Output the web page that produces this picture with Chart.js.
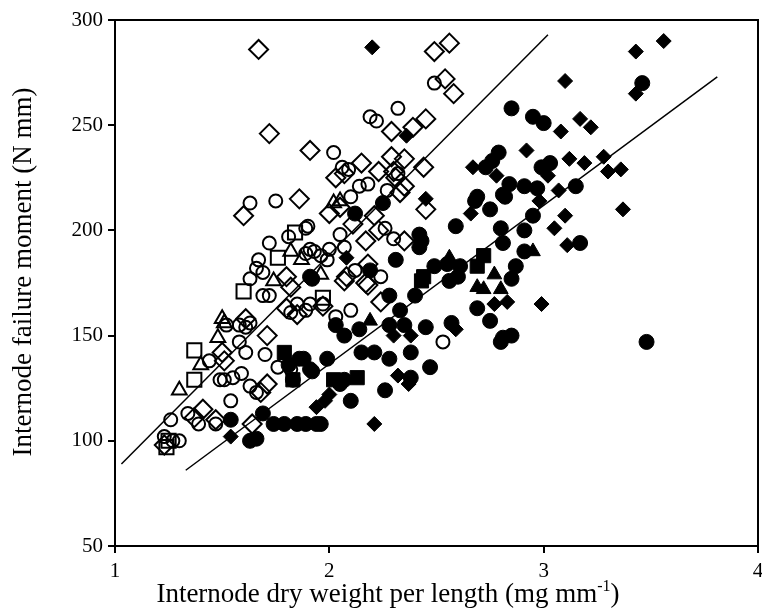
<!DOCTYPE html>
<html>
<head>
<meta charset="utf-8">
<script src="https://cdn.jsdelivr.net/npm/chart.js@4"></script>
<style>
  html, body { margin: 0; padding: 0; background: #fff; }
</style>
</head>
<body>
<canvas id="chart" width="762" height="610"></canvas>
<script>
const xTicks = [1, 2, 3, 4];
const yTicks = [50, 100, 150, 200, 250, 300];

// open symbols [x, y]
const openDiamonds = [
  [1.67, 286], [1.72, 246], [1.91, 238], [2.49, 285], [2.56, 289], [2.54, 272], [2.58, 265],
  [2.29, 247], [2.39, 249], [2.45, 253], [2.15, 232], [2.23, 228], [2.29, 235], [2.35, 234],
  [2.44, 230], [2.30, 228], [1.60, 207], [1.86, 215], [1.80, 178], [1.82, 173], [1.80, 163],
  [1.85, 160], [1.97, 164], [1.61, 158], [1.71, 150], [1.50, 142], [1.51, 138], [1.68, 123],
  [1.71, 127], [1.41, 115], [1.37, 111], [1.47, 110], [1.23, 98], [1.64, 108], [2.03, 225],
  [2.07, 227], [2.31, 225], [2.35, 221], [2.33, 218], [2.45, 210], [2.00, 208], [2.05, 211],
  [2.21, 207], [2.17, 195], [2.23, 200], [2.11, 203], [2.35, 195], [2.18, 184], [2.08, 178],
  [2.18, 174], [2.24, 166], [2.07, 176], [2.17, 175]
];
const openCircles = [
  [2.49, 270], [2.32, 258], [2.19, 254], [2.22, 252], [2.02, 237], [2.06, 230], [2.09, 229],
  [2.32, 227], [1.63, 213], [1.75, 214], [1.90, 202], [1.81, 197], [1.72, 194], [1.67, 186],
  [1.66, 182], [1.69, 180], [1.63, 177], [1.69, 169], [1.72, 169], [1.89, 189], [1.93, 190],
  [1.96, 188], [1.82, 161], [1.91, 165], [1.52, 155], [1.58, 155], [1.61, 154], [1.63, 156],
  [1.58, 147], [1.61, 142], [1.70, 141], [1.76, 135], [1.82, 134], [1.44, 138], [1.49, 129],
  [1.51, 129], [1.55, 130], [1.59, 132], [1.63, 126], [1.66, 123], [1.54, 119], [1.26, 110],
  [1.34, 113], [1.39, 108], [1.47, 108], [1.23, 102], [1.27, 100], [1.30, 100], [2.18, 222],
  [2.27, 219], [2.14, 221], [2.10, 216], [1.89, 201], [1.91, 191], [2.26, 201], [2.30, 196],
  [2.05, 198], [2.00, 191], [2.07, 192], [1.99, 186], [2.12, 181], [2.24, 178], [1.85, 165],
  [1.89, 162], [1.97, 165], [2.03, 159], [2.10, 162], [2.53, 147]
];
const openTriangles = [
  [1.82, 190], [1.74, 176], [1.87, 186], [1.50, 158], [1.51, 156], [1.48, 149], [1.40, 136],
  [1.30, 124], [2.02, 213], [1.96, 179], [2.05, 214]
];
const openSquares = [
  [1.84, 199], [1.76, 187], [1.60, 171], [1.37, 143], [1.37, 129], [1.25, 100], [1.24, 97],
  [1.97, 168]
];

// filled symbols [x, y]
const filledCircles = [
  [2.85, 258], [2.95, 254], [3.00, 251], [3.46, 270], [2.79, 237], [2.73, 230], [2.76, 233],
  [2.99, 230], [3.03, 232], [2.84, 222], [2.91, 221], [2.97, 220], [2.81, 217], [2.69, 216],
  [3.15, 221], [2.75, 210], [2.82, 216], [2.95, 207], [2.91, 200], [2.80, 201], [2.81, 194],
  [3.17, 194], [2.91, 190], [2.87, 183], [2.85, 177], [2.69, 163], [2.75, 157], [2.85, 150],
  [2.81, 149], [2.80, 147], [3.48, 147], [2.68, 214], [2.12, 208], [2.25, 213], [1.92, 177],
  [2.42, 198], [2.43, 195], [2.42, 192], [2.59, 202], [2.31, 186], [2.19, 181], [1.91, 178],
  [2.49, 183], [2.55, 184], [2.61, 183], [2.60, 178], [2.56, 176], [2.28, 169], [2.33, 162],
  [2.40, 169], [2.03, 155], [2.07, 150], [2.14, 153], [2.28, 155], [2.35, 155], [2.45, 154],
  [2.57, 156], [1.88, 139], [1.92, 133], [1.99, 139], [2.15, 142], [2.21, 142], [2.28, 139],
  [2.38, 142], [2.47, 135], [2.38, 130], [2.05, 127], [2.07, 129], [2.26, 124], [2.10, 119],
  [1.85, 108], [1.94, 108], [1.81, 136], [1.86, 139], [1.91, 134], [1.83, 129], [1.54, 110],
  [1.69, 113], [1.74, 108], [1.79, 108], [1.89, 108], [1.96, 108], [1.63, 100], [1.66, 101]
];
const filledDiamonds = [
  [2.20, 287], [2.36, 245], [3.43, 285], [3.56, 290], [3.10, 271], [3.43, 265], [3.08, 247],
  [3.17, 253], [3.22, 249], [2.92, 238], [2.67, 230], [3.12, 234], [3.19, 232], [3.28, 235],
  [3.30, 228], [3.36, 229], [2.78, 226], [3.07, 219], [3.02, 226], [2.98, 214], [3.10, 207],
  [3.05, 201], [3.37, 210], [3.11, 193], [2.77, 165], [2.83, 166], [2.99, 165], [2.45, 215],
  [2.66, 208], [2.08, 187], [2.59, 153], [2.30, 150], [2.38, 150], [2.32, 131], [2.37, 127],
  [2.00, 122], [1.94, 116], [2.21, 108], [1.54, 102], [1.98, 119]
];
const filledTriangles = [
  [2.56, 187], [2.69, 173], [2.19, 157], [2.95, 190], [2.77, 179], [2.72, 172], [2.80, 172]
];
const filledSquares = [
  [1.79, 142], [2.02, 129], [2.13, 130], [2.72, 188], [2.69, 183], [2.44, 178], [2.43, 176],
  [1.83, 129]
];

// fitted lines, end points
const fitUpper = [[1.03, 89], [3.02, 293]];
const fitLower = [[1.33, 86], [3.81, 273]];

const toPts = arr => arr.map(([x, y]) => ({ x, y }));

function openSet(data, style, r) {
  return {
    data: toPts(data), pointStyle: style, pointRadius: r,
    backgroundColor: 'rgba(0,0,0,0)', borderColor: '#000', borderWidth: 2
  };
}
function filledSet(data, style, r) {
  return {
    data: toPts(data), pointStyle: style, pointRadius: r,
    backgroundColor: '#000', borderColor: '#000', borderWidth: 1
  };
}
function lineSet(data) {
  return {
    data: toPts(data), showLine: true, pointRadius: 0,
    borderColor: '#000', borderWidth: 1.5, fill: false
  };
}

const titleFont = '27px "Liberation Serif"';
const supFont = '16px "Liberation Serif"';
const tickFont = '21px "Liberation Serif"';

// frame, x tick labels and axis titles
const framePlugin = {
  id: 'frame',
  afterDraw(chart) {
    const { ctx, chartArea: a } = chart;
    const xs = chart.scales.x;
    ctx.save();
    ctx.strokeStyle = '#000';
    ctx.lineWidth = 2;
    ctx.strokeRect(a.left, a.top, a.right - a.left, a.bottom - a.top);

    ctx.fillStyle = '#000';
    ctx.font = tickFont;
    ctx.textAlign = 'center';
    ctx.textBaseline = 'alphabetic';
    xTicks.forEach(v => ctx.fillText(String(v), xs.getPixelForValue(v), 577));

    // x title with superscript
    const main = 'Internode dry weight per length (mg mm';
    const sup = '-1';
    const end = ')';
    ctx.font = titleFont;
    const w1 = ctx.measureText(main).width;
    const w3 = ctx.measureText(end).width;
    ctx.font = supFont;
    const w2 = ctx.measureText(sup).width;
    const x = 388 - (w1 + w2 + w3) / 2;
    const y = 602;
    ctx.textAlign = 'left';
    ctx.font = titleFont;
    ctx.fillText(main, x, y);
    ctx.font = supFont;
    ctx.fillText(sup, x + w1, y - 11);
    ctx.font = titleFont;
    ctx.fillText(end, x + w1 + w2, y);

    // y title
    ctx.translate(31, 272);
    ctx.rotate(-Math.PI / 2);
    ctx.textAlign = 'center';
    ctx.fillText('Internode failure moment (N mm)', 0, 0);
    ctx.restore();
  }
};

new Chart(document.getElementById('chart'), {
  type: 'scatter',
  data: {
    datasets: [
      lineSet(fitUpper),
      lineSet(fitLower),
      filledSet(filledTriangles, 'triangle', 8.5),
      filledSet(filledSquares, 'rect', 10),
      filledSet(filledDiamonds, 'rectRot', 7.5),
      filledSet(filledCircles, 'circle', 7.5),
      openSet(openTriangles, 'triangle', 8.5),
      openSet(openSquares, 'rect', 10),
      openSet(openCircles, 'circle', 6.5),
      openSet(openDiamonds, 'rectRot', 9.5)
    ]
  },
  options: {
    responsive: false,
    animation: false,
    layout: { autoPadding: false, padding: { top: 20, right: 4, left: 0, bottom: 0 } },
    plugins: { legend: { display: false }, tooltip: { enabled: false } },
    scales: {
      x: {
        type: 'linear', min: 1, max: 4,
        afterBuildTicks: s => { s.ticks = xTicks.map(v => ({ value: v })); },
        afterFit: s => { s.height = 64; },
        grid: { drawOnChartArea: false, drawTicks: true, tickLength: 7, color: '#000', lineWidth: 2 },
        border: { color: '#000', width: 2 },
        ticks: { display: false }
      },
      y: {
        type: 'linear', min: 50, max: 300,
        afterBuildTicks: s => { s.ticks = yTicks.map(v => ({ value: v })); },
        afterFit: s => { s.width = 115; },
        grid: { drawOnChartArea: false, drawTicks: true, tickLength: 7, color: '#000', lineWidth: 2 },
        border: { color: '#000', width: 2 },
        ticks: { color: '#000', font: { family: 'Liberation Serif', size: 21 }, padding: 5 }
      }
    }
  },
  plugins: [framePlugin]
});
</script>
</body>
</html>
